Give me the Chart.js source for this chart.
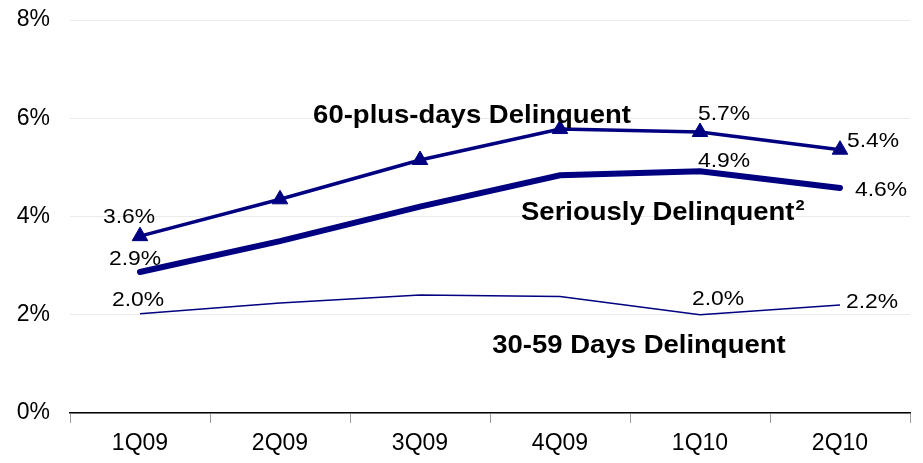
<!DOCTYPE html>
<html>
<head>
<meta charset="utf-8">
<script src="https://cdn.jsdelivr.net/npm/chart.js@4.4.1/dist/chart.umd.min.js"></script>
<style>
  html, body { margin: 0; padding: 0; background: #fff; }
  #wrap { width: 923px; height: 463px; }
</style>
</head>
<body>
<div id="wrap"><canvas id="myChart" width="923" height="463"></canvas></div>
<script>
// quarters on the x axis
const quarters = ['1Q09', '2Q09', '3Q09', '4Q09', '1Q10', '2Q10'];

// delinquency rates in percent
const sixtyPlus = [3.6, 4.35, 5.15, 5.78, 5.72, 5.36];
const seriously = [2.87, 3.5, 4.2, 4.84, 4.92, 4.58];
const thirtyTo59 = [2.02, 2.24, 2.4, 2.37, 2.0, 2.2];

// y axis ticks
const yTicks = [0, 2, 4, 6, 8];

// printed value labels: [dataset, point index, text]
const valueLabels = [
  [0, 0, '3.6%'], [0, 4, '5.7%'], [0, 5, '5.4%'],
  [1, 0, '2.9%'], [1, 4, '4.9%'], [1, 5, '4.6%'],
  [2, 0, '2.0%'], [2, 4, '2.0%'], [2, 5, '2.2%']
];

const navy = '#000080';

// where each value label sits relative to its point
const labelOffsets = {
  '0-0': [-11, -19], '0-4': [24, -18], '0-5': [33, -8],
  '1-0': [-5, -13], '1-4': [24, -10], '1-5': [41, 2],
  '2-0': [-2, -14], '2-4': [18, -16], '2-5': [32, -3]
};

function stretchedText(ctx, text, x, y, sx) {
  ctx.save();
  ctx.translate(x, y);
  ctx.scale(sx, 1);
  ctx.fillText(text, 0, 0);
  ctx.restore();
}

const labelPlugin = {
  id: 'labelPlugin',
  afterDatasetsDraw(chart) {
    const ctx = chart.ctx;
    ctx.save();
    ctx.fillStyle = '#000';
    ctx.textAlign = 'center';
    ctx.textBaseline = 'middle';
    ctx.font = '21px "Liberation Sans", Arial, sans-serif';
    valueLabels.forEach(([ds, i, txt]) => {
      const pt = chart.getDatasetMeta(ds).data[i];
      const off = labelOffsets[ds + '-' + i];
      stretchedText(ctx, txt, pt.x + off[0], pt.y + off[1], 1.09);
    });

    // series names
    const x = chart.scales.x, y = chart.scales.y;
    ctx.font = 'bold 25px "Liberation Sans", Arial, sans-serif';
    stretchedText(ctx, '60-plus-days Delinquent', (x.getPixelForValue(2) + x.getPixelForValue(3)) / 2 - 18, y.getPixelForValue(6.05), 1.1);
    stretchedText(ctx, '30-59 Days Delinquent', (x.getPixelForValue(3) + x.getPixelForValue(4)) / 2 + 9, y.getPixelForValue(1.37), 1.1);

    ctx.textAlign = 'left';
    const sx = 521, sy = y.getPixelForValue(4.07);
    const main = 'Seriously Delinquent';
    const w = ctx.measureText(main).width * 1.1;
    stretchedText(ctx, main, sx, sy, 1.1);
    ctx.font = 'bold 15px "Liberation Sans", Arial, sans-serif';
    stretchedText(ctx, '2', sx + w + 1, sy - 7, 1.1);
    ctx.restore();
  }
};

const data = {
  labels: quarters,
  datasets: [
    {
      label: '60-plus-days Delinquent',
      data: sixtyPlus,
      borderColor: navy,
      backgroundColor: navy,
      borderWidth: 3.5,
      pointStyle: 'triangle',
      pointRadius: 9,
      pointBorderWidth: 1,
      pointBackgroundColor: navy,
      tension: 0
    },
    {
      label: 'Seriously Delinquent',
      data: seriously,
      borderColor: navy,
      borderWidth: 6,
      borderCapStyle: 'round',
      pointRadius: 0,
      tension: 0
    },
    {
      label: '30-59 Days Delinquent',
      data: thirtyTo59,
      borderColor: navy,
      borderWidth: 1.5,
      pointRadius: 0,
      tension: 0
    }
  ]
};

const config = {
  type: 'line',
  data: data,
  plugins: [labelPlugin],
  options: {
    responsive: false,
    animation: false,
    layout: { padding: { left: 0, right: 13, top: 20, bottom: 0 } },
    plugins: {
      legend: { display: false },
      tooltip: { enabled: false },
      title: { display: false }
    },
    scales: {
      x: {
        offset: true,
        grid: {
          offset: true,
          drawOnChartArea: false,
          drawTicks: true,
          tickLength: 10,
          color: '#9a9a9a'
        },
        border: { display: true, color: '#000', width: 1.5 },
        ticks: {
          color: '#000',
          padding: 7,
          maxRotation: 0,
          font: { family: '"Liberation Sans", Arial, sans-serif', size: 23 }
        },
        afterFit(scale) { scale.height = 50; }
      },
      y: {
        min: 0,
        max: 8,
        afterBuildTicks(scale) { scale.ticks = yTicks.map(v => ({ value: v })); },
        grid: { color: '#ebebeb', drawTicks: false },
        border: { display: false },
        ticks: {
          color: '#000',
          padding: 20,
          callback: v => v + '%',
          font: { family: '"Liberation Sans", Arial, sans-serif', size: 23 }
        },
        afterFit(scale) {
          scale.width = 70;
          scale.paddingTop = 0;
          scale.paddingBottom = 0;
        }
      }
    }
  }
};

const ctx = document.getElementById('myChart').getContext('2d');
const myChart = new Chart(ctx, config);
</script>
</body>
</html>
